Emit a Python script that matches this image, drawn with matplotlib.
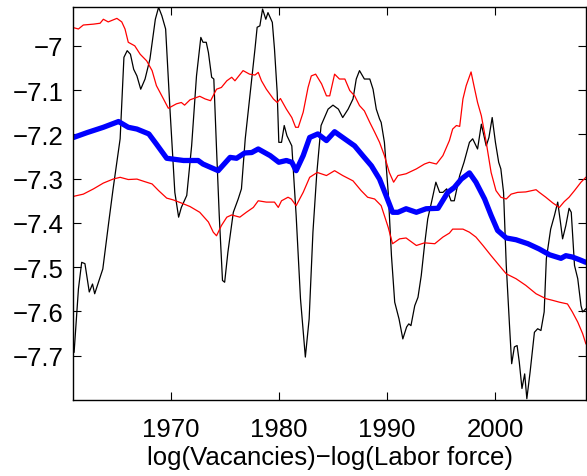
import matplotlib
matplotlib.use('Agg')
import matplotlib.pyplot as plt

# vacancies / labor force (black), trend (blue), band (red)
yr_obs = [1961.1, 1961.5, 1961.8, 1962.1, 1962.5, 1962.8, 1963.0, 1963.75, 1964.3, 1964.7,
          1965.35, 1965.7, 1966.0, 1966.3, 1966.6, 1966.9, 1967.25, 1967.65, 1968.1, 1968.6,
          1968.9, 1969.2, 1969.55, 1969.95, 1970.4, 1970.75, 1971.0, 1971.5, 1971.95, 1972.4,
          1972.8, 1973.0, 1973.3, 1973.5, 1973.8, 1974.0, 1974.25, 1974.5, 1974.8, 1975.0,
          1975.3, 1975.8, 1976.25, 1976.55, 1976.9, 1977.3, 1977.8, 1978.0, 1978.25, 1978.5,
          1978.8, 1979.0, 1979.4, 1979.6, 1979.85, 1980.0, 1980.25, 1980.5, 1980.75, 1981.2,
          1981.6, 1982.0, 1982.45, 1982.8, 1983.15, 1983.5, 1983.9, 1984.55, 1985.0, 1985.5,
          1985.9, 1986.4, 1986.85, 1987.15, 1987.45, 1987.9, 1988.4, 1988.7, 1989.0, 1989.3,
          1989.45, 1989.75, 1990.1, 1990.4, 1990.7, 1991.1, 1991.45, 1991.8, 1992.0, 1992.2,
          1992.55, 1992.85, 1993.15, 1993.45, 1993.75, 1994.1, 1994.5, 1994.85, 1995.15, 1995.5,
          1995.9, 1996.2, 1996.7, 1997.1, 1997.6, 1997.9, 1998.35, 1998.7, 1999.15, 1999.4,
          1999.7, 2000.0, 2000.3, 2000.5, 2000.75, 2001.0, 2001.3, 2001.5, 2001.75, 2002.0,
          2002.2, 2002.45, 2002.7, 2002.9, 2003.2, 2003.6, 2003.9, 2004.2, 2004.5, 2004.7,
          2005.1, 2005.45, 2005.75, 2006.0, 2006.2, 2006.5, 2006.8, 2007.0, 2007.3, 2007.6,
          2007.9, 2008.05, 2008.35]
vac = [-7.692, -7.549, -7.489, -7.492, -7.556, -7.538, -7.560, -7.504, -7.398, -7.323,
       -7.210, -7.026, -7.011, -7.019, -7.053, -7.068, -7.098, -7.075, -7.030, -6.940,
       -6.913, -6.932, -6.962, -7.143, -7.331, -7.387, -7.365, -7.338, -7.226, -7.068,
       -6.981, -6.992, -6.992, -7.015, -7.071, -7.075, -7.233, -7.383, -7.530, -7.534,
       -7.466, -7.376, -7.346, -7.323, -7.210, -7.120, -7.007, -6.958, -6.955, -6.917,
       -6.940, -6.925, -6.947, -7.007, -7.105, -7.218, -7.218, -7.180, -7.203, -7.226,
       -7.383, -7.571, -7.703, -7.617, -7.421, -7.290, -7.180, -7.143, -7.134, -7.143,
       -7.162, -7.143, -7.120, -7.075, -7.056, -7.075, -7.075, -7.098, -7.143, -7.165,
       -7.173, -7.218, -7.331, -7.474, -7.579, -7.617, -7.662, -7.635, -7.628, -7.632,
       -7.587, -7.568, -7.519, -7.451, -7.391, -7.353, -7.308, -7.331, -7.331, -7.323,
       -7.350, -7.350, -7.293, -7.263, -7.218, -7.210, -7.233, -7.177, -7.226, -7.207,
       -7.162, -7.218, -7.263, -7.278, -7.331, -7.496, -7.632, -7.718, -7.680, -7.677,
       -7.714, -7.774, -7.741, -7.797, -7.737, -7.647, -7.639, -7.643, -7.601, -7.481,
       -7.414, -7.383, -7.353, -7.398, -7.436, -7.406, -7.367, -7.376, -7.496, -7.526,
       -7.587, -7.601, -7.594]

yr_trend = [1961.05, 1962.3, 1963.8, 1965.2, 1966.1, 1966.9, 1968.0, 1968.7, 1969.65, 1971.2,
            1972.55, 1973.0, 1974.4, 1975.5, 1976.1, 1976.85, 1977.5, 1978.1, 1979.2, 1980.0,
            1980.7, 1981.2, 1981.6, 1982.25, 1982.85, 1983.6, 1984.4, 1985.15, 1985.9, 1987.0,
            1987.75, 1988.55, 1989.3, 1989.9, 1990.5, 1991.0, 1991.75, 1992.7, 1993.6, 1994.7,
            1995.6, 1996.2, 1996.85, 1997.6, 1998.2, 1999.0, 1999.6, 2000.2, 2001.0, 2001.9,
            2003.0, 2004.05, 2005.0, 2006.05, 2006.5, 2007.1, 2007.75, 2008.35]
trend = [-7.207, -7.196, -7.184, -7.171, -7.184, -7.188, -7.199, -7.222, -7.254, -7.259,
         -7.259, -7.267, -7.282, -7.252, -7.254, -7.242, -7.241, -7.233, -7.248, -7.263,
         -7.259, -7.263, -7.282, -7.248, -7.207, -7.199, -7.214, -7.194, -7.207, -7.226,
         -7.248, -7.271, -7.301, -7.338, -7.376, -7.376, -7.368, -7.376, -7.368, -7.367,
         -7.331, -7.320, -7.301, -7.287, -7.308, -7.346, -7.383, -7.417, -7.434, -7.438,
         -7.447, -7.459, -7.472, -7.480, -7.474, -7.477, -7.483, -7.489]

yr_up = [1961.05, 1961.5, 1961.95, 1962.9, 1963.5, 1963.8, 1964.25, 1965.05, 1965.5, 1965.8,
         1966.1, 1966.7, 1967.2, 1967.8, 1968.3, 1968.7, 1969.35, 1969.8, 1970.25, 1970.55,
         1971.0, 1971.3, 1971.8, 1972.7, 1973.2, 1973.7, 1974.25, 1974.7, 1975.2, 1975.65,
         1975.95, 1976.7, 1977.3, 1977.8, 1978.1, 1978.4, 1978.85, 1979.5, 1979.85, 1980.15,
         1980.7, 1981.2, 1981.55, 1981.8, 1982.25, 1982.7, 1983.0, 1983.4, 1983.95, 1984.4,
         1984.7, 1985.15, 1985.6, 1986.1, 1986.55, 1987.0, 1987.45, 1987.9, 1988.4, 1988.85,
         1989.3, 1989.75, 1990.2, 1990.6, 1991.0, 1991.75, 1992.7, 1993.45, 1993.9, 1994.55,
         1995.15, 1995.75, 1996.05, 1996.4, 1996.7, 1997.0, 1997.3, 1997.75, 1998.05, 1998.35,
         1998.7, 1999.15, 1999.6, 2000.05, 2000.5, 2001.0, 2001.45, 2002.05, 2002.8, 2003.75,
         2004.05, 2004.65, 2005.3, 2005.9, 2006.35, 2006.8, 2007.3, 2007.9, 2008.35]
upper = [-6.959, -6.962, -6.953, -6.951, -6.949, -6.940, -6.946, -6.938, -6.946, -6.962,
         -6.992, -7.000, -7.019, -7.034, -7.056, -7.090, -7.120, -7.141, -7.135, -7.131,
         -7.128, -7.134, -7.122, -7.114, -7.120, -7.124, -7.098, -7.094, -7.079, -7.071,
         -7.079, -7.056, -7.064, -7.066, -7.060, -7.079, -7.098, -7.120, -7.128, -7.119,
         -7.143, -7.162, -7.184, -7.184, -7.150, -7.094, -7.068, -7.064, -7.086, -7.113,
         -7.113, -7.064, -7.075, -7.075, -7.101, -7.113, -7.135, -7.147, -7.173, -7.195,
         -7.218, -7.248, -7.286, -7.308, -7.293, -7.289, -7.278, -7.267, -7.263, -7.267,
         -7.248, -7.214, -7.188, -7.180, -7.182, -7.120, -7.090, -7.059, -7.094, -7.128,
         -7.158, -7.218, -7.286, -7.327, -7.342, -7.346, -7.335, -7.331, -7.330, -7.325,
         -7.331, -7.342, -7.355, -7.365, -7.352, -7.342, -7.327, -7.308, -7.297]

yr_lo = [1961.05, 1961.95, 1962.9, 1963.8, 1964.7, 1965.35, 1966.1, 1966.9, 1967.65, 1968.3,
         1968.9, 1969.65, 1970.25, 1971.0, 1971.8, 1972.7, 1973.5, 1973.95, 1974.25, 1974.7,
         1975.2, 1975.65, 1976.4, 1977.0, 1977.65, 1978.1, 1978.85, 1979.6, 1979.95, 1980.25,
         1980.85, 1981.15, 1981.6, 1982.25, 1982.85, 1983.55, 1984.4, 1985.15, 1985.9, 1986.85,
         1987.6, 1988.2, 1988.85, 1989.45, 1990.1, 1990.5, 1991.15, 1991.75, 1992.7, 1993.45,
         1994.4, 1995.15, 1995.75, 1996.05, 1997.0, 1997.6, 1998.2, 1998.85, 1999.6, 2000.35,
         2001.0, 2001.9, 2002.8, 2003.75, 2004.65, 2005.3, 2005.9, 2006.65, 2007.1, 2007.6,
         2008.05, 2008.35]
lower = [-7.340, -7.335, -7.323, -7.310, -7.301, -7.297, -7.302, -7.301, -7.307, -7.312,
         -7.327, -7.344, -7.348, -7.355, -7.363, -7.376, -7.398, -7.421, -7.429, -7.406,
         -7.387, -7.382, -7.387, -7.376, -7.365, -7.350, -7.353, -7.353, -7.365, -7.350,
         -7.342, -7.346, -7.361, -7.331, -7.297, -7.286, -7.293, -7.282, -7.293, -7.305,
         -7.327, -7.342, -7.346, -7.361, -7.410, -7.447, -7.436, -7.434, -7.451, -7.445,
         -7.447, -7.432, -7.423, -7.414, -7.414, -7.421, -7.432, -7.451, -7.474, -7.496,
         -7.515, -7.526, -7.541, -7.560, -7.571, -7.575, -7.579, -7.583, -7.601, -7.624,
         -7.650, -7.673]

xticks = [1970, 1980, 1990, 2000]
yticks = [-7.7, -7.6, -7.5, -7.4, -7.3, -7.2, -7.1, -7]
ylabels = ['\u22127.7', '\u22127.6', '\u22127.5', '\u22127.4', '\u22127.3', '\u22127.2', '\u22127.1', '\u22127']

plt.rcParams['font.family'] = ['Liberation Sans', 'DejaVu Sans']

fig = plt.figure(figsize=(5.87, 4.77), dpi=100)
ax = fig.add_axes([0.1244, 0.1593, 0.8746, 0.8233])

ax.plot(yr_obs, vac, color='black', lw=0.9)
ax.plot(yr_up, upper, color='red', lw=0.9)
ax.plot(yr_lo, lower, color='red', lw=0.9)
ax.plot(yr_trend, trend, color='blue', lw=3.8, solid_capstyle='round')

ax.set_xlim(1961.0, 2008.4)
ax.set_ylim(-7.8, -6.913)
ax.set_xticks(xticks)
ax.set_yticks(yticks)
ax.set_yticklabels(ylabels)
ax.tick_params(direction='in', length=6, width=0.8, top=True, right=True, labelsize=18.5)
ax.tick_params(axis='x', pad=12)
ax.tick_params(axis='y', pad=7)
for s in ax.spines.values():
    s.set_linewidth(1.0)

ax.set_xlabel('log(Vacancies)\u2212log(Labor force)', fontsize=18.5, labelpad=3)

fig.savefig('out.png', dpi=100)
